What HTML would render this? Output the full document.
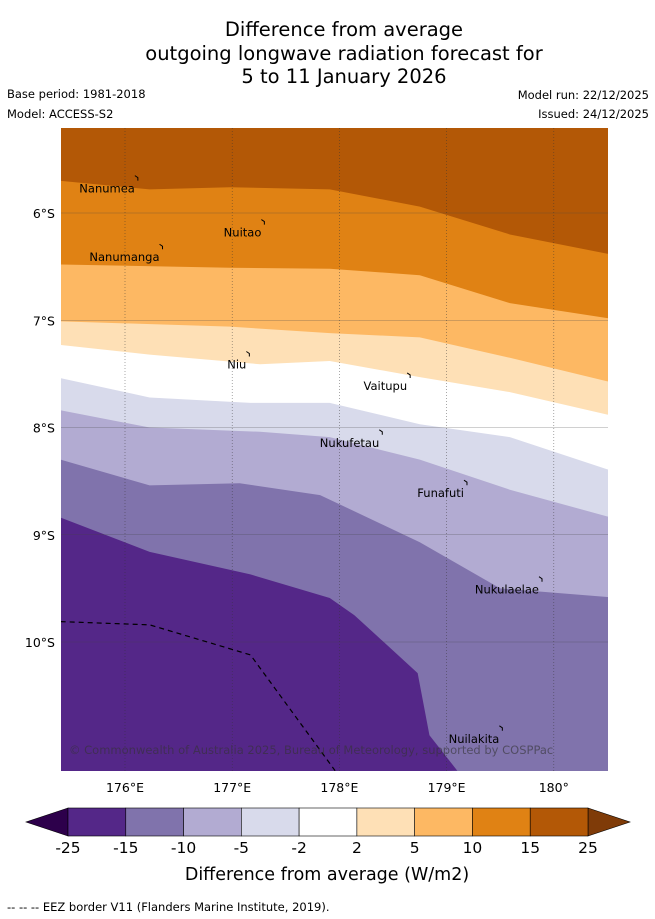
<!DOCTYPE html>
<html><head><meta charset="utf-8">
<style>
body{margin:0;background:#fff;font-family:"DejaVu Sans","Liberation Sans",sans-serif;}
#wrap{position:relative;width:655px;height:919px;overflow:hidden;}
svg text{font-family:"DejaVu Sans","Liberation Sans",sans-serif;}
</style></head><body>
<div id="wrap">
<svg id="svg" width="655" height="919" xmlns="http://www.w3.org/2000/svg">
<g font-size="19.5" text-anchor="middle" fill="#000">
<text x="344" y="36">Difference from average</text>
<text x="344" y="60">outgoing longwave radiation forecast for</text>
<text x="344" y="83">5 to 11 January 2026</text>
</g>
<g font-size="11.5" fill="#000">
<text x="7" y="98">Base period: 1981-2018</text>
<text x="7" y="118">Model: ACCESS-S2</text>
<text x="649" y="99" text-anchor="end">Model run: 22/12/2025</text>
<text x="649" y="118" text-anchor="end">Issued: 24/12/2025</text>
</g>
<defs><clipPath id="mapclip"><rect x="61" y="128" width="547" height="643"/></clipPath></defs>
<g id="map" clip-path="url(#mapclip)"></g>
<g id="axes"></g>
<g id="cbar"></g>
<text x="327" y="880" font-size="17.5" text-anchor="middle">Difference from average (W/m2)</text>
<text x="7" y="911" font-size="11.5">--  --  -- EEZ border V11 (Flanders Marine Institute, 2019).</text>
</svg>
</div>
<script>
// contour boundary lines (lon °E, lat °S), top to bottom
const lonB1=[175.40,176.23,176.98,177.91,178.75,179.59,180.50];
const latB1=[5.70,5.78,5.76,5.78,5.94,6.20,6.38];
const lonB2=[175.40,176.98,177.91,178.75,179.59,180.50];
const latB2=[6.48,6.51,6.52,6.58,6.84,6.98];
const lonB3=[175.40,176.98,177.91,178.75,179.59,180.50];
const latB3=[7.01,7.06,7.12,7.16,7.35,7.57];
const lonB4=[175.40,176.23,177.26,177.91,178.75,179.59,180.50];
const latB4=[7.23,7.32,7.41,7.38,7.53,7.67,7.88];
const lonB5=[175.40,176.23,177.17,177.91,178.75,179.59,180.50];
const latB5=[7.54,7.72,7.77,7.77,7.97,8.09,8.39];
const lonB6=[175.40,176.23,177.26,177.91,178.75,179.59,180.50];
const latB6=[7.84,8.00,8.04,8.09,8.30,8.58,8.83];
const lonB7=[175.40,176.23,177.07,177.82,178.75,179.50,180.50];
const latB7=[8.30,8.54,8.52,8.63,9.07,9.50,9.58];
const lonB8=[175.40,176.23,177.17,177.91,178.14,178.73,178.84,179.10];
const latB8=[8.84,9.16,9.37,9.59,9.75,10.29,10.87,11.20];
const bandColors=["#b35806","#e08214","#fdb863","#fee0b6","#ffffff","#d8daeb","#b2abd2","#8073ac","#542788"];
const eezLon=[175.40,176.23,177.17,177.96];
const eezLat=[9.81,9.84,10.12,11.20];
const lonTicks=[176,177,178,179,180];
const lonTickLabels=["176°E","177°E","178°E","179°E","180°"];
const latTicks=[6,7,8,9,10];
const latTickLabels=["6°S","7°S","8°S","9°S","10°S"];
const islandNames=["Nanumea","Nuitao","Nanumanga","Niu","Vaitupu","Nukufetau","Funafuti","Nukulaelae","Nuilakita"];
const islandLon=[176.12,177.30,176.35,177.16,178.66,178.40,179.19,179.89,179.52];
const islandLat=[5.67,6.08,6.31,7.31,7.51,8.04,8.51,9.41,10.80];
const cbLevels=["-25","-15","-10","-5","-2","2","5","10","15","25"];
const cbColors=["#542788","#8073ac","#b2abd2","#d8daeb","#ffffff","#fee0b6","#fdb863","#e08214","#b35806"];

const NS="http://www.w3.org/2000/svg";
const X=lon=>125+(lon-176)*107.2;
const Y=lat=>213+(lat-6)*107.25;
function mk(tag,attrs,parent){const e=document.createElementNS(NS,tag);for(const k in attrs)e.setAttribute(k,attrs[k]);parent.appendChild(e);return e;}
const map=document.getElementById('map');
const bg=mk('rect',{x:61,y:128,width:547,height:643,fill:bandColors[0]},map);


const lons=[lonB1,lonB2,lonB3,lonB4,lonB5,lonB6,lonB7,lonB8];
const lats=[latB1,latB2,latB3,latB4,latB5,latB6,latB7,latB8];
const bandNames=['band-10-15','band-5-10','band-2-5','band-neutral','band-m2-m5','band-m5-m10','band-m10-m15','band-m15-m25'];
for(let i=0;i<8;i++){
  let pts=lons[i].map((l,j)=>X(l)+','+Y(lats[i][j]));
  if(i<7){pts.push('620,'+Y(lats[i][lats[i].length-1]));pts.push('620,780');pts.push('50,780');}
  else{pts.push('50,780');}
  pts.push('50,'+Y(lats[i][0]));
  const p=mk('polygon',{points:pts.join(' '),fill:bandColors[i+1]},map);
  
  
}
lonTicks.forEach(t=>{const l=mk('line',{x1:X(t),x2:X(t),y1:128,y2:771,stroke:'#333','stroke-width':0.6,'stroke-dasharray':'1,2',opacity:0.7},map);

});
latTicks.forEach(t=>{const l=mk('line',{x1:61,x2:608,y1:Y(t),y2:Y(t),stroke:'#444','stroke-width':0.6,opacity:0.5},map);

});
const eez=mk('polyline',{points:eezLon.map((l,j)=>X(l)+','+Y(eezLat[j])).join(' '),fill:'none',stroke:'#000','stroke-width':1.2,'stroke-dasharray':'5,4'},map);


islandNames.forEach((n,i)=>{
  const t=mk('text',{x:X(islandLon[i])-3,y:Y(islandLat[i])+15,'font-size':11.5,'text-anchor':'end',fill:'#000'},map);
  t.textContent=n;
  
  
  const m=mk('path',{d:'M'+(X(islandLon[i])-3)+' '+(Y(islandLat[i])-2)+' l3 2 l0 3',fill:'none',stroke:'#000','stroke-width':1},map);
  
  
});
const cr=mk('text',{x:69,y:754,'font-size':11.5,fill:'#333',opacity:0.6},map);
cr.textContent='© Commonwealth of Australia 2025, Bureau of Meteorology, supported by COSPPac';


const axes=document.getElementById('axes');
lonTicks.forEach((t,i)=>{const e=mk('text',{x:X(t),y:792,'font-size':12.5,'text-anchor':'middle'},axes);e.textContent=lonTickLabels[i];

});
latTicks.forEach((t,i)=>{const e=mk('text',{x:55,y:Y(t)+5,'font-size':12.5,'text-anchor':'end'},axes);e.textContent=latTickLabels[i];

});
const cb=document.getElementById('cbar');
const cx0=68,cx1=588,cy=808,ch=28,bw=(cx1-cx0)/cbColors.length;
const lt=mk('polygon',{points:`${cx0},${cy} ${cx0},${cy+ch} 26,${cy+ch/2}`,fill:'#2d004b',stroke:'#000','stroke-width':0.6},cb);


const rt=mk('polygon',{points:`${cx1},${cy} ${cx1},${cy+ch} 630,${cy+ch/2}`,fill:'#7f3b08',stroke:'#000','stroke-width':0.6},cb);


cbColors.forEach((c,i)=>{const r=mk('rect',{x:cx0+i*bw,y:cy,width:bw,height:ch,fill:c,stroke:'#000','stroke-width':0.6},cb);

});
cbLevels.forEach((s,i)=>{const e=mk('text',{x:cx0+i*bw,y:853,'font-size':15.5,'text-anchor':'middle'},cb);e.textContent=s;

});
</script>
</body></html>
